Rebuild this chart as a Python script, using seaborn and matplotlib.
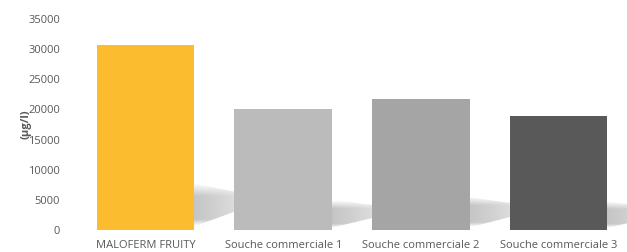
import numpy as np
import pandas as pd
import seaborn as sns
import matplotlib.pyplot as plt
from matplotlib.patches import Polygon

# data
souches = ['MALOFERM FRUITY', 'Souche commerciale 1', 'Souche commerciale 2', 'Souche commerciale 3']
valeurs = [30700, 20100, 21700, 18900]
couleurs = ['#FBBC2F', '#BBBBBB', '#A5A5A5', '#595959']
yticks = [0, 5000, 10000, 15000, 20000, 25000, 30000, 35000]

df = pd.DataFrame({'souche': souches, 'valeur': valeurs})

sns.set_style('white')
plt.rcParams['font.family'] = ['Open Sans', 'DejaVu Sans']

fig = plt.figure(figsize=(6.27, 2.52), dpi=100)
ax = fig.add_axes([0.1225, 0.087, 0.878, 0.838])

sns.barplot(data=df, x='souche', y='valeur', hue='souche', palette=couleurs,
            width=0.71, legend=False, ax=ax, zorder=3, saturation=1,
            linewidth=0, edgecolor='none')

# soft perspective shadow behind each bar, built from the bar patches
L = 0.55
for p in ax.patches:
    x0 = p.get_x()
    x1 = x0 + p.get_width()
    h = p.get_height()
    poly = Polygon([(x0, 0.02 * h), (x1, 0.02 * h), (x1 + L, 0.17 * h),
                    (x1, 0.25 * h), (x0, 0.25 * h)],
                   closed=True, facecolor='none', edgecolor='none',
                   transform=ax.transData)
    ax.add_patch(poly)
    nx, ny = 200, 60
    gx = np.linspace(0, 1, nx)
    fade_x = np.clip(1 - gx, 0, 1) ** 0.7
    gy = np.linspace(0, 1, ny)
    fade_y = np.clip((1 - gy) / 0.3, 0, 1) * np.clip(gy / 0.15, 0, 1)
    a = np.outer(fade_y, fade_x)
    img = np.zeros((ny, nx, 4))
    img[..., :3] = 0.77
    img[..., 3] = a
    im = ax.imshow(img, extent=(x1 - 0.01, x1 + L, 0.02 * h, 0.25 * h), origin='lower',
                   aspect='auto', zorder=2, interpolation='bilinear')
    im.set_clip_path(poly)

ax.set_ylim(0, 35000)
ax.set_xlim(-0.5, 3.5)
ax.set_yticks(yticks)
ax.set_yticklabels([str(v) for v in yticks])
ax.set_xlabel('')
ax.set_ylabel('(µg/l)', fontsize=8, fontweight='bold', color='#595959', labelpad=-2)
ax.tick_params(axis='both', length=0, labelsize=8, colors='#595959')
ax.tick_params(axis='x', pad=7)
ax.tick_params(axis='y', pad=12)
sns.despine(ax=ax, left=True, bottom=True)

fig.savefig('out.png', dpi=100)
